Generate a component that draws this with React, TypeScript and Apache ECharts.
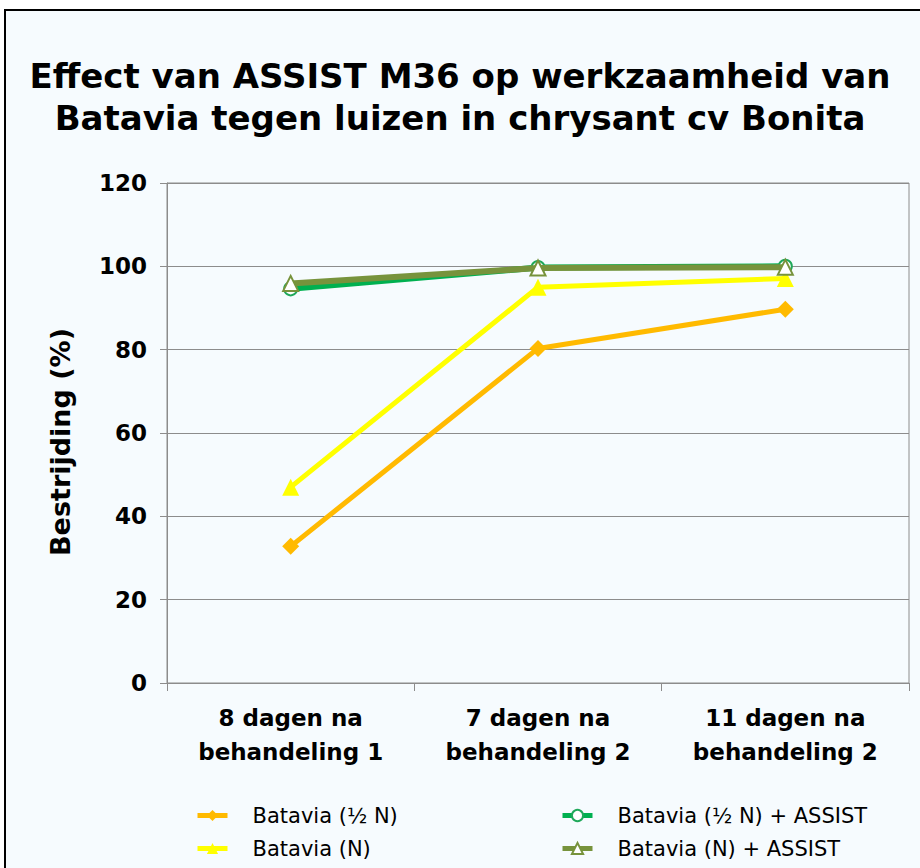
import React, { useEffect, useRef } from "react";
import * as echarts from "echarts";

const categories = ["8 dagen na\nbehandeling 1", "7 dagen na\nbehandeling 2", "11 dagen na\nbehandeling 2"];
const halfN = [32.8, 80.3, 89.7];
const fullN = [47.0, 95.0, 97.1];
const halfNAssist = [94.6, 99.7, 100];
const fullNAssist = [95.9, 99.6, 99.8];
const seriesNames = ["Batavia (½ N)", "Batavia (N)", "Batavia (½ N) + ASSIST", "Batavia (N) + ASSIST"];
const titleText = "Effect van ASSIST M36 op werkzaamheid van\nBatavia tegen luizen in chrysant cv Bonita";
const yAxisTitle = "Bestrijding (%)";

const FONT = "Verdana, 'DejaVu Sans', sans-serif";

export default function App() {
  const ref = useRef<HTMLDivElement>(null);
  useEffect(() => {
    if (!ref.current) return;
    const chart = echarts.init(ref.current, undefined, { renderer: "svg" });
    const legendCommon = {
      orient: "vertical",
      top: 800,
      height: 70,
      itemWidth: 30,
      itemHeight: 14,
      itemGap: 12,
      lineStyle: { width: 5 },
      textStyle: { fontFamily: FONT, fontSize: 21, color: "#000", padding: [0, 0, 0, 20] },
    };
    chart.setOption({
      animation: false,
      backgroundColor: "#ffffff",
      graphic: [
        {
          type: "rect",
          z: -10,
          silent: true,
          shape: { x: 5, y: 10, width: 1000, height: 1000 },
          style: { fill: "#f6fbfe", stroke: "#000000", lineWidth: 2 },
        },
        {
          type: "text",
          x: 60,
          y: 442,
          rotation: Math.PI / 2,
          style: {
            text: yAxisTitle,
            fontFamily: FONT,
            fontWeight: "bold",
            fontSize: 27,
            fill: "#000",
            align: "center",
            verticalAlign: "middle",
          },
        },
      ],
      title: {
        text: titleText,
        left: "center",
        top: 50,
        textStyle: {
          fontFamily: FONT,
          fontWeight: "bold",
          fontSize: 34,
          lineHeight: 42,
          color: "#000",
        },
      },
      grid: {
        left: 167,
        right: 11,
        top: 183,
        bottom: 185,
        show: true,
        borderColor: "#8c8c8c",
        borderWidth: 1,
        backgroundColor: "transparent",
      },
      legend: [
        { ...legendCommon, data: [seriesNames[0], seriesNames[1]], left: 190 },
        { ...legendCommon, data: [seriesNames[2], seriesNames[3]], left: 555 },
      ],
      xAxis: {
        type: "category",
        data: categories,
        boundaryGap: true,
        axisLine: { show: true, lineStyle: { color: "#8c8c8c", width: 1 } },
        axisTick: { show: true, length: 8, lineStyle: { color: "#8c8c8c" } },
        axisLabel: {
          fontFamily: FONT,
          fontWeight: "bold",
          fontSize: 23,
          lineHeight: 34,
          color: "#000",
          margin: 18,
        },
      },
      yAxis: {
        type: "value",
        min: 0,
        max: 120,
        interval: 20,
        axisLine: { show: true, lineStyle: { color: "#8c8c8c", width: 1 } },
        axisTick: { show: true, length: 7, lineStyle: { color: "#8c8c8c" } },
        splitLine: { show: true, lineStyle: { color: "#8c8c8c", width: 1 } },
        axisLabel: {
          fontFamily: FONT,
          fontWeight: "bold",
          fontSize: 23,
          color: "#000",
          margin: 20,
        },
      },
      series: [
        {
          name: seriesNames[0],
          type: "line",
          data: halfN,
          symbol: "diamond",
          symbolSize: 17,
          lineStyle: { color: "#FFBA00", width: 5 },
          itemStyle: { color: "#FFBA00" },
          z: 2,
        },
        {
          name: seriesNames[1],
          type: "line",
          data: fullN,
          symbol: "triangle",
          symbolSize: 17,
          lineStyle: { color: "#FFFF00", width: 5 },
          itemStyle: { color: "#FFFF00" },
          z: 3,
        },
        {
          name: seriesNames[2],
          type: "line",
          data: halfNAssist,
          symbol: "emptyCircle",
          symbolSize: 13,
          lineStyle: { color: "#00B050", width: 6 },
          itemStyle: { color: "#1fa85a", borderWidth: 1.5, borderColor: "#1fa85a" },
          z: 4,
        },
        {
          name: seriesNames[3],
          type: "line",
          data: fullNAssist,
          symbol: "emptyTriangle",
          symbolSize: 15,
          lineStyle: { color: "#77933C", width: 6 },
          itemStyle: { color: "#77933C", borderWidth: 1.5, borderColor: "#77933C" },
          z: 5,
        },
      ],
    });
    return () => chart.dispose();
  }, []);
  return (
    <div
      ref={ref}
      style={{ position: "fixed", left: 0, top: 0, width: 920, height: 868 }}
    />
  );
}
